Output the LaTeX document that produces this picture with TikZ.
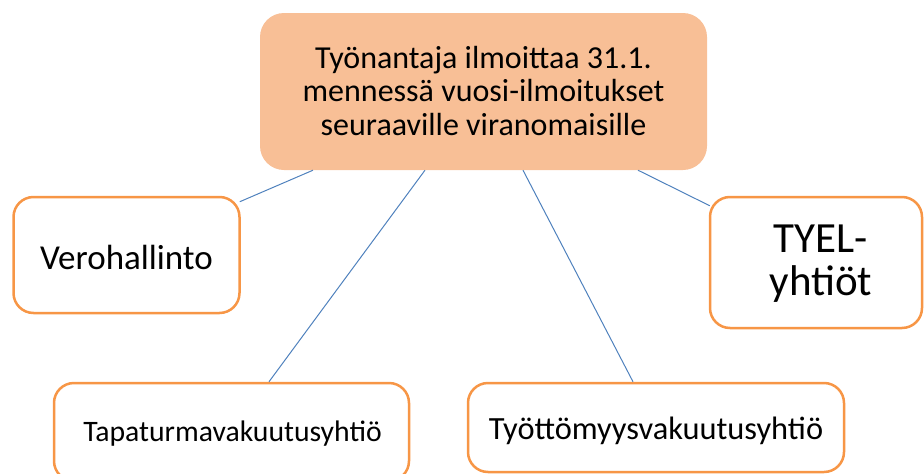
\documentclass[tikz,border=0pt]{standalone}
\usepackage{fontspec}
\setmainfont{Carlito}
\definecolor{peach}{HTML}{F8BF96}
\definecolor{orangeb}{HTML}{F79646}
\definecolor{linkc}{HTML}{4F81BD}
\begin{document}
\begin{tikzpicture}[x=1pt,y=-1pt,
  mainbox/.style={rectangle, rounded corners=24pt, fill=peach, draw=none, inner sep=0pt, align=center},
  leafbox/.style={rectangle, rounded corners=20pt, draw=orangeb, line width=2.5pt, fill=white, inner sep=0pt, align=center},
  conn/.style={draw=linkc, line width=1pt}]
\useasboundingbox (0,0) rectangle (924,474);
\node[mainbox, minimum width=447pt, minimum height=157pt] (top) at (483.5,91.5) {};
\node[font=\fontsize{32}{33.5}\selectfont, align=center] (toptext) at (483.5,91) {Työnantaja ilmoittaa 31.1.\\mennessä vuosi-ilmoitukset\\seuraaville viranomaisille};
\node[leafbox, minimum width=226pt, minimum height=116pt] (vero) at (126.5,255) {};
\node[font=\fontsize{35}{36}\selectfont] (verotext) at (126.5,257) {Verohallinto};
\node[leafbox, minimum width=212pt, minimum height=131pt] (tyel) at (816,262.5) {};
\node[font=\fontsize{43}{43}\selectfont, align=center] (tyeltext) at (821,264) {TYEL-\\yhtiöt};
\node[leafbox, minimum width=355pt, minimum height=98pt] (tapa) at (231.5,432) {};
\node[font=\fontsize{29.7}{31}\selectfont] (tapatext) at (232.5,434) {Tapaturmavakuutusyhtiö};
\node[leafbox, minimum width=376pt, minimum height=89pt] (tyot) at (656,427.5) {};
\node[font=\fontsize{32.4}{34}\selectfont] (tyottext) at (656,431) {Työttömyysvakuutusyhtiö};
\draw[conn] ([xshift=-170.5pt]top.south) -- ([yshift=-6pt,xshift=-1pt]vero.north east);
\draw[conn] ([xshift=-58.5pt]top.south) -- ([xshift=37.5pt]tapa.north);
\draw[conn] ([xshift=39.5pt]top.south) -- ([xshift=-23pt]tyot.north);
\draw[conn] ([xshift=154.5pt]top.south) -- ([yshift=-10pt,xshift=1pt]tyel.north west);
\end{tikzpicture}
\end{document}
